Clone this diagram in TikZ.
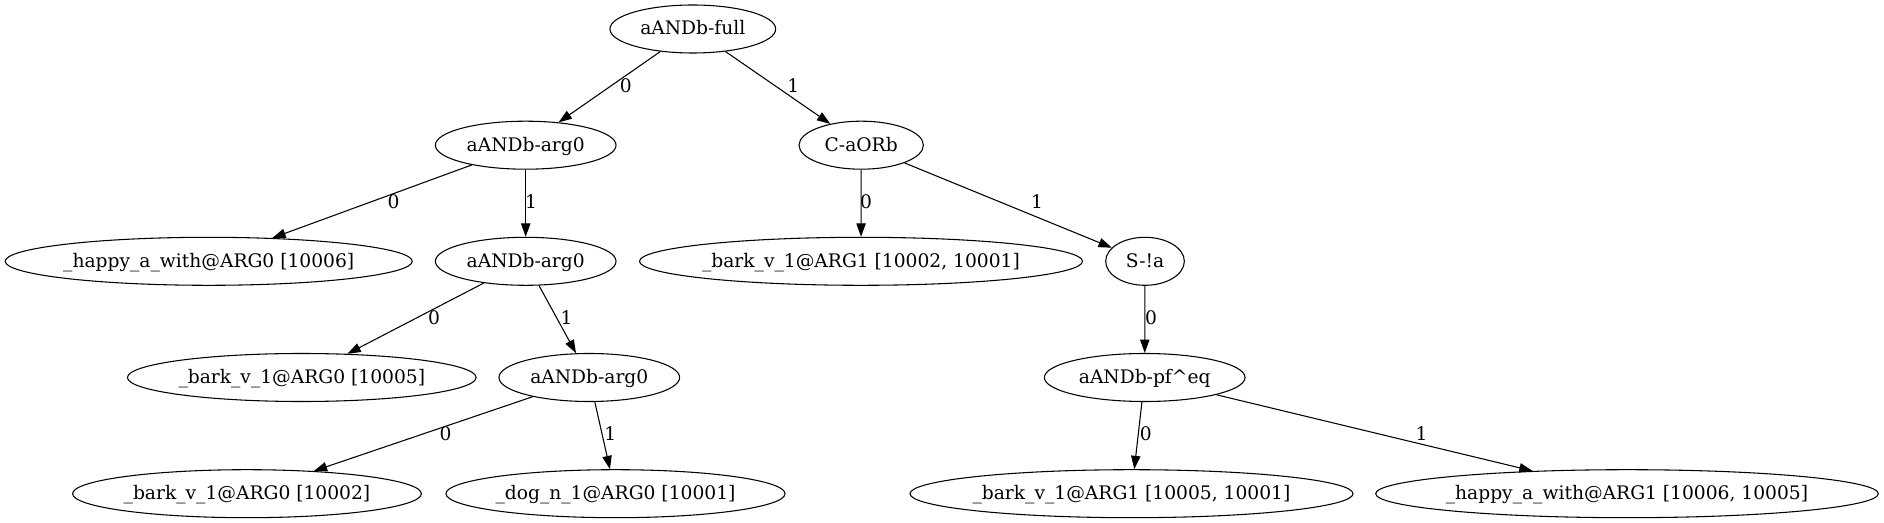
\documentclass[tikz,border=0pt]{standalone}
\usepackage{fontspec}
\setmainfont{DejaVu Serif}
\usetikzlibrary{shapes.geometric,arrows.meta}
\begin{document}
\begin{tikzpicture}[x=0.75pt,y=-0.75pt,
  nd/.style={draw, ellipse, line width=0.8pt, inner sep=0pt, minimum height=36pt,
    text height=12pt, text depth=3pt, font=\fontsize{14pt}{16pt}\selectfont},
  edge/.style={draw, line width=0.8pt, -{Triangle[length=10pt,width=7pt]}},
  lbl/.style={inner sep=0pt, font=\fontsize{14pt}{16pt}\selectfont}]
\fill[white] (0,0) rectangle (1884,523);
\useasboundingbox (0,0) rectangle (1884,523);
% nodes
\node[nd, minimum width=124.3pt] (full) at (692.8,29) {\makebox[0pt]{aANDb-full}};
\node[nd, minimum width=135.5pt] (a1) at (525.7,145.2) {\makebox[0pt]{aANDb-arg0}};
\node[nd, minimum width=93.3pt] (cor) at (861.2,145.2) {\makebox[0pt]{C-aORb}};
\node[nd, minimum width=305.3pt] (hap0) at (208.7,261.3) {\makebox[0pt]{\_happy\_a\_with@ARG0 [10006]}};
\node[nd, minimum width=135.5pt] (a2) at (525.7,261.3) {\makebox[0pt]{aANDb-arg0}};
\node[nd, minimum width=332.3pt] (bark12) at (861,261.3) {\makebox[0pt]{\_bark\_v\_1@ARG1 [10002, 10001]}};
\node[nd, minimum width=59pt] (snot) at (1145,261.3) {\makebox[0pt]{S-!a}};
\node[nd, minimum width=261.5pt] (bark05) at (301.8,377.5) {\makebox[0pt]{\_bark\_v\_1@ARG0 [10005]}};
\node[nd, minimum width=135.5pt] (a3) at (589.3,377.5) {\makebox[0pt]{aANDb-arg0}};
\node[nd, minimum width=150.5pt] (pf) at (1144.7,377.5) {\makebox[0pt]{aANDb-pf\textasciicircum eq}};
\node[nd, minimum width=261.6pt] (bark02) at (247,493.7) {\makebox[0pt]{\_bark\_v\_1@ARG0 [10002]}};
\node[nd, minimum width=254.3pt] (dog) at (615.5,493.7) {\makebox[0pt]{\_dog\_n\_1@ARG0 [10001]}};
\node[nd, minimum width=332.3pt] (barkA1) at (1131.5,493.7) {\makebox[0pt]{\_bark\_v\_1@ARG1 [10005, 10001]}};
\node[nd, minimum width=377pt] (hapA1) at (1627,493.7) {\makebox[0pt]{\_happy\_a\_with@ARG1 [10006, 10005]}};
% edges
\draw[edge] (full) -- (a1) node[lbl] (l1) at (625.7,85.5) {0};
\draw[edge] (full) -- (cor) node[lbl] (l2) at (793.3,85.5) {1};
\draw[edge] (a1) -- (hap0) node[lbl] (l3) at (393.5,201.5) {0};
\draw[edge] (a1) -- (a2) node[lbl] (l4) at (531,201.5) {1};
\draw[edge] (cor) -- (bark12) node[lbl] (l5) at (866,201.5) {0};
\draw[edge] (cor) -- (snot) node[lbl] (l6) at (1037,201.5) {1};
\draw[edge] (a2) -- (bark05) node[lbl] (l7) at (434,318) {0};
\draw[edge] (a2) -- (a3) node[lbl] (l8) at (566.5,318) {1};
\draw[edge] (snot) -- (pf) node[lbl] (l9) at (1151,318) {0};
\draw[edge] (a3) -- (bark02) node[lbl] (l10) at (445.6,434) {0};
\draw[edge] (a3) -- (dog) node[lbl] (l11) at (610.3,434) {1};
\draw[edge] (pf) -- (barkA1) node[lbl] (l12) at (1145.7,434) {0};
\draw[edge] (pf) -- (hapA1) node[lbl] (l13) at (1421.6,434) {1};
\end{tikzpicture}
\end{document}
